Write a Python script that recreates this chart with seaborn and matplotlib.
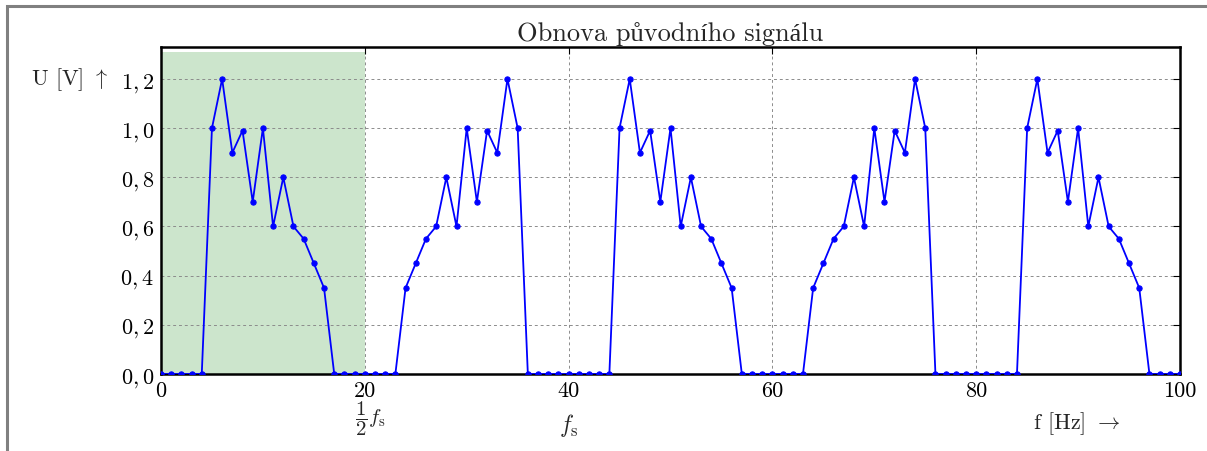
import numpy as np
import pandas as pd
import matplotlib
matplotlib.use("Agg")
import matplotlib.pyplot as plt
import seaborn as sns
from matplotlib.patches import Rectangle

# ---- data ----
freq_hz = np.arange(0, 101)
gap_0 = [0, 0, 0, 0, 0]                                   # 0..4
band_1 = [1.0, 1.2, 0.9, 0.99, 0.7, 1.0, 0.6, 0.8, 0.6, 0.55, 0.45, 0.35]   # 5..16
gap_1 = [0, 0, 0, 0, 0, 0, 0]                             # 17..23
band_2 = [0.35, 0.45, 0.55, 0.6, 0.8, 0.6, 1.0, 0.7, 0.99, 0.9, 1.2, 1.0]   # 24..35
gap_2 = [0, 0, 0, 0, 0, 0, 0, 0, 0]                       # 36..44
band_3 = [1.0, 1.2, 0.9, 0.99, 0.7, 1.0, 0.6, 0.8, 0.6, 0.55, 0.45, 0.35]   # 45..56
gap_3 = [0, 0, 0, 0, 0, 0, 0]                             # 57..63
band_4 = [0.35, 0.45, 0.55, 0.6, 0.8, 0.6, 1.0, 0.7, 0.99, 0.9, 1.2, 1.0]   # 64..75
gap_4 = [0, 0, 0, 0, 0, 0, 0, 0, 0]                       # 76..84
band_5 = [1.0, 1.2, 0.9, 0.99, 0.7, 1.0, 0.6, 0.8, 0.6, 0.55, 0.45, 0.35]   # 85..96
gap_5 = [0, 0, 0, 0]                                      # 97..100
u_values = gap_0 + band_1 + gap_1 + band_2 + gap_2 + band_3 + gap_3 + band_4 + gap_4 + band_5 + gap_5

x_ticks = [0, 20, 40, 60, 80, 100]
x_tick_labels = ["0", "20", "40", "60", "80", "100"]
y_ticks = [0.0, 0.2, 0.4, 0.6, 0.8, 1.0, 1.2]
y_tick_labels = [r"$0,0$", r"$0,2$", r"$0,4$", r"$0,6$", r"$0,8$", r"$1,0$", r"$1,2$"]

title = "Obnova původního signálu"

df = pd.DataFrame({"f": freq_hz, "U": u_values})

# ---- style ----
sns.set_style("white")
plt.rcParams["font.family"] = ["cmr10", "Liberation Serif", "DejaVu Serif"]
plt.rcParams["mathtext.fontset"] = "cm"
plt.rcParams["axes.unicode_minus"] = False

fig = plt.figure(figsize=(12.07, 4.52), dpi=100)
W, H = 1207, 452
ax = fig.add_axes([161 / W, 1 - 375 / H, (1180 - 161) / W, (375 - 48) / H])

ax.axvspan(0, 20, ymin=0, ymax=0.985, facecolor="g", alpha=0.2, lw=0, zorder=0)

sns.lineplot(data=df, x="f", y="U", ax=ax, color="b", lw=1.3,
             marker="o", markersize=3.8, markeredgecolor="b", zorder=3)

ax.set_xlim(0, 100)
ax.set_ylim(0, 1.33)
ax.set_xticks(x_ticks)
ax.set_xticklabels(x_tick_labels)
ax.set_yticks(y_ticks)
ax.set_yticklabels(y_tick_labels)
ax.tick_params(direction="in", length=5, width=0.8, top=True, right=True,
               labelsize=16, pad=5, colors="black")
ax.grid(True, color="0.55", linestyle="--", linewidth=0.7, dashes=(3, 3))
ax.set_axisbelow(True)
for s in ax.spines.values():
    s.set_visible(True)
    s.set_color("black")
    s.set_linewidth(1.8)
ax.set_xlabel("")
ax.set_ylabel("")

ax.set_title(title, fontsize=19, pad=5)

# annotations
fig.text(108 / W, 1 - 80 / H, r"U [V] $\uparrow$", ha="right", va="center", fontsize=16)
fig.text(370 / W, 1 - 419 / H, r"$\dfrac{1}{2}f_\mathrm{s}$", ha="center", va="center", fontsize=15)
fig.text(569 / W, 1 - 426 / H, r"$f_\mathrm{s}$", ha="center", va="center", fontsize=17)
fig.text(1077 / W, 1 - 424 / H, r"f [Hz] $\rightarrow$", ha="center", va="center", fontsize=16)

# figure frame (gray)
fig.patches.append(Rectangle((6.5 / W, -0.1), 1.2, 1 - 6.5 / H + 0.1, transform=fig.transFigure,
                             fill=False, edgecolor="#808080", lw=2.2, clip_on=False))

fig.savefig("out.png", dpi=100)
